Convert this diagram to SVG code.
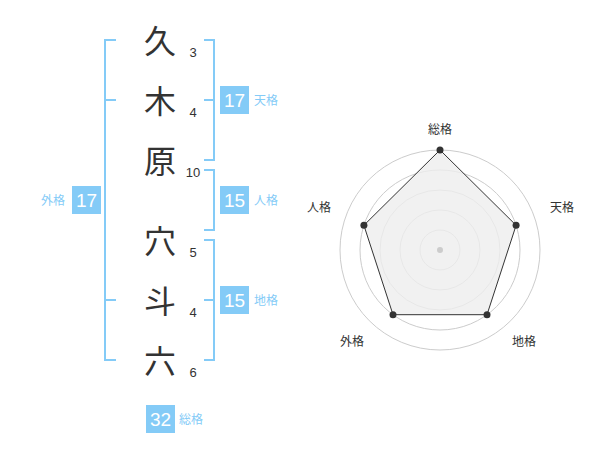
<svg xmlns="http://www.w3.org/2000/svg" width="600" height="470" viewBox="0 0 600 470">
<style>
.k{font-family:"Noto Sans CJK JP","Noto Sans CJK SC",sans-serif;font-size:32px;fill:#333;text-anchor:middle}
.n{font-family:"Liberation Sans","Noto Sans",sans-serif;font-size:13px;fill:#333;text-anchor:middle}
.br{fill:none;stroke:#84CBF7;stroke-width:2}
.box{fill:#84CBF7}
.bn{font-family:"Liberation Sans","Noto Sans",sans-serif;font-size:19px;fill:#fff;text-anchor:middle}
.bl{font-family:"Noto Sans CJK JP",sans-serif;font-size:12px;fill:#84CBF7}
.ring{fill:none;stroke:#ccc;stroke-width:1}
.rl{font-family:"Noto Sans CJK JP",sans-serif;font-size:12px;fill:#333;text-anchor:middle}
.pt{fill:#333}
</style>
<g id="name">
<text class="k" x="160" y="53">久</text>
<text class="k" x="160" y="113">木</text>
<text class="k" x="160" y="173">原</text>
<text class="k" x="160" y="253">穴</text>
<text class="k" x="160" y="313">斗</text>
<text class="k" x="160" y="373">六</text>
<text class="n" x="193" y="57">3</text>
<text class="n" x="193" y="117">4</text>
<text class="n" x="193" y="177">10</text>
<text class="n" x="193" y="257">5</text>
<text class="n" x="193" y="317">4</text>
<text class="n" x="193" y="377">6</text>
</g>
<g id="connectors">
<path class="br" d="M116,40 H105 V360 H116 M105,100 H116 M105,300 H116"/>
<path class="br" d="M204,40 H214 V160 H204 M204,100 H214"/>
<path class="br" d="M204,170 H214 V230 H204"/>
<path class="br" d="M204,240 H214 V360 H204 M204,300 H214"/>
</g>
<g id="tenkaku">
<rect class="box" x="220" y="86" width="29" height="28"/>
<text class="bn" x="234.5" y="107">17</text>
<text class="bl" x="254" y="105">天格</text>
</g>
<g id="jinkaku">
<rect class="box" x="220" y="186" width="29" height="28"/>
<text class="bn" x="234.5" y="207">15</text>
<text class="bl" x="254" y="205">人格</text>
</g>
<g id="chikaku">
<rect class="box" x="220" y="286" width="29" height="28"/>
<text class="bn" x="234.5" y="307">15</text>
<text class="bl" x="254" y="305">地格</text>
</g>
<g id="gaikaku">
<rect class="box" x="72" y="186" width="29" height="28"/>
<text class="bn" x="86.5" y="207">17</text>
<text class="bl" x="41" y="205">外格</text>
</g>
<g id="soukaku">
<rect class="box" x="146" y="405" width="29" height="28"/>
<text class="bn" x="160.5" y="426">32</text>
<text class="bl" x="179" y="424">総格</text>
</g>
<g id="radar">
<circle class="ring" cx="440" cy="250" r="20"/>
<circle class="ring" cx="440" cy="250" r="40"/>
<circle class="ring" cx="440" cy="250" r="60"/>
<circle class="ring" cx="440" cy="250" r="80"/>
<circle class="ring" cx="440" cy="250" r="100"/>
<polygon points="440,150 516.1,225.3 487,314.7 393,314.7 363.9,225.3" fill="#eee" fill-opacity="0.8" stroke="#333" stroke-width="1"/>
<circle cx="440" cy="250" r="3" fill="#ccc"/>
<circle class="pt" cx="440" cy="150" r="3.5"/>
<circle class="pt" cx="516.1" cy="225.3" r="3.5"/>
<circle class="pt" cx="487" cy="314.7" r="3.5"/>
<circle class="pt" cx="393" cy="314.7" r="3.5"/>
<circle class="pt" cx="363.9" cy="225.3" r="3.5"/>
<text class="rl" x="440" y="134">総格</text>
<text class="rl" x="562" y="212">天格</text>
<text class="rl" x="319" y="212">人格</text>
<text class="rl" x="524" y="346">地格</text>
<text class="rl" x="352" y="346">外格</text>
</g>
</svg>
